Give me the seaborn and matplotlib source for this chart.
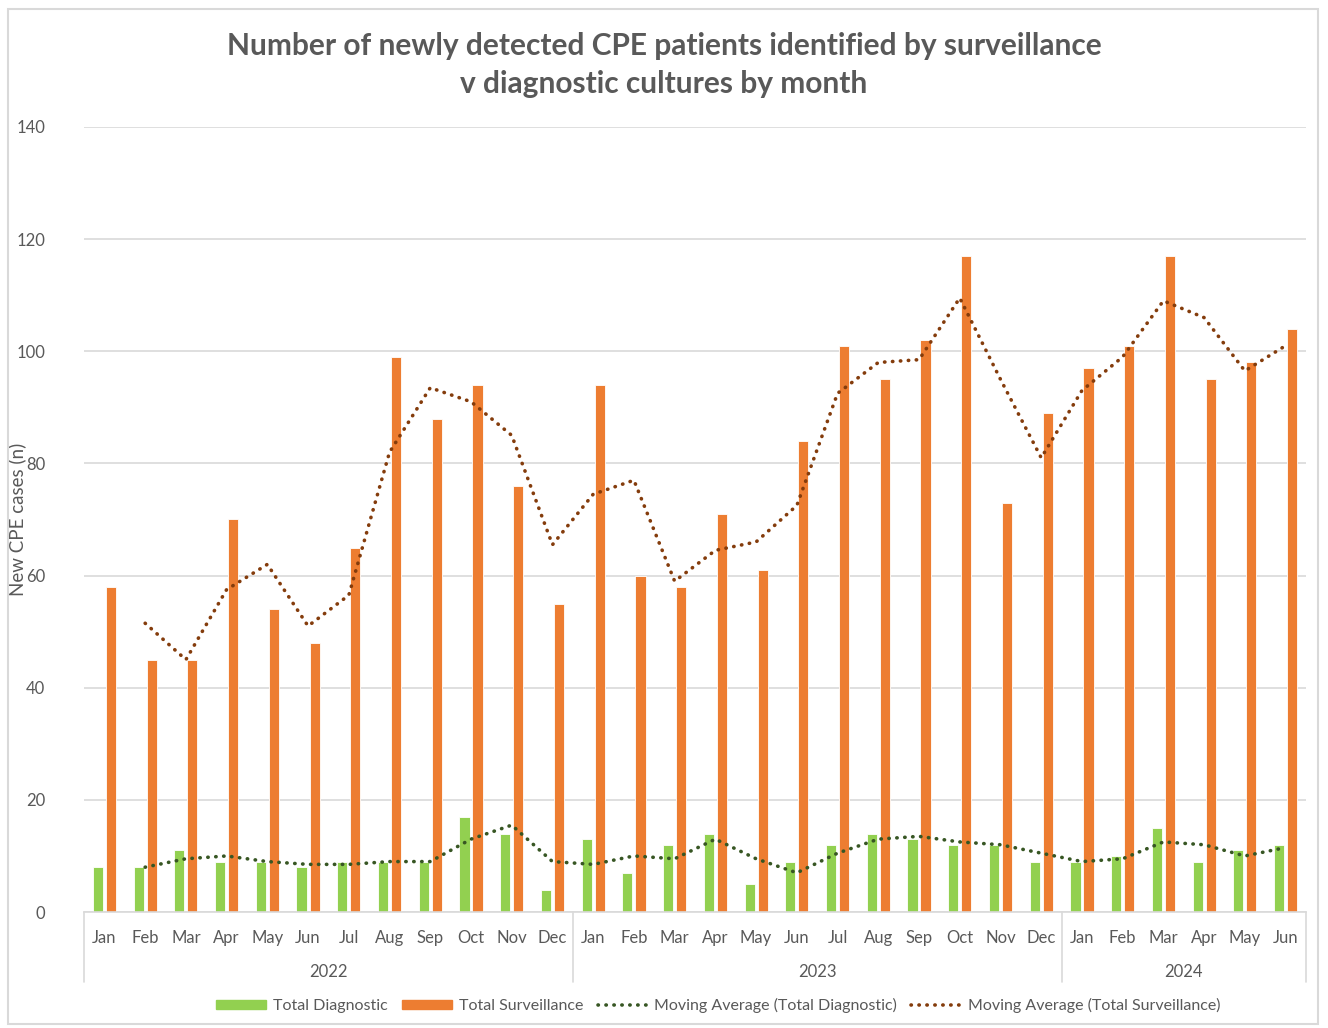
import numpy as np
import pandas as pd
import matplotlib
matplotlib.use("Agg")
import matplotlib.pyplot as plt
import matplotlib.patches as mpatches
from matplotlib.lines import Line2D
import seaborn as sns

# ─────────────────────────────────────────────
# Data
# ─────────────────────────────────────────────
months = ["Jan", "Feb", "Mar", "Apr", "May", "Jun", "Jul", "Aug", "Sep", "Oct", "Nov", "Dec",
          "Jan", "Feb", "Mar", "Apr", "May", "Jun", "Jul", "Aug", "Sep", "Oct", "Nov", "Dec",
          "Jan", "Feb", "Mar", "Apr", "May", "Jun"]
years = ["2022", "2023", "2024"]
year_lengths = [12, 12, 6]

diagnostic = [8, 8, 11, 9, 9, 8, 9, 9, 9, 17, 14, 4,
              13, 7, 12, 14, 5, 9, 12, 14, 13, 12, 12, 9,
              9, 10, 15, 9, 11, 12]
surveillance = [58, 45, 45, 70, 54, 48, 65, 99, 88, 94, 76, 55,
                94, 60, 58, 71, 61, 84, 101, 95, 102, 117, 73, 89,
                97, 101, 117, 95, 98, 104]

GREEN = "#92D050"
ORANGE = "#ED7D31"
MA_GREEN = "#375623"
MA_BROWN = "#843C0C"
TEXT = "#595959"
GRID = "#D9D9D9"
DOTS = (0, (0.1, 2.1))

sns.set_theme(style="white")
plt.rcParams["font.family"] = ["Lato", "DejaVu Sans"]

pos = np.arange(len(months))
df = pd.DataFrame({"pos": pos, "Total Diagnostic": diagnostic, "Total Surveillance": surveillance})
long = df.melt(id_vars="pos", var_name="series", value_name="n")

# 2-period moving averages (Excel trendline)
df["ma_diag"] = df["Total Diagnostic"].rolling(2).mean()
df["ma_surv"] = df["Total Surveillance"].rolling(2).mean()

fig = plt.figure(figsize=(13.28, 10.28), dpi=100)
ax = fig.add_axes([0.0633, 0.1128, 0.9201, 0.7637])

sns.barplot(data=long, x="pos", y="n", hue="series", order=list(pos),
            palette=[GREEN, ORANGE], saturation=1, width=0.64, gap=0.22,
            edgecolor="white", linewidth=0.6, legend=False, ax=ax)

ma = df.dropna()
sns.lineplot(x=ma["pos"], y=ma["ma_diag"], color=MA_GREEN, linewidth=2.6,
             linestyle=DOTS, dash_capstyle="round", ax=ax)
sns.lineplot(x=ma["pos"], y=ma["ma_surv"], color=MA_BROWN, linewidth=2.6,
             linestyle=DOTS, dash_capstyle="round", ax=ax)

ax.set_xlim(-0.5, len(months) - 0.5)
ax.set_ylim(0, 140)
ax.set_yticks(range(0, 141, 20))
ax.yaxis.grid(True, color=GRID, linewidth=1.2)
ax.set_axisbelow(True)
for s in ["top", "right", "left"]:
    ax.spines[s].set_visible(False)
ax.spines["bottom"].set_color(GRID)
ax.spines["bottom"].set_linewidth(1.2)

ax.set_xticks(pos)
ax.set_xticklabels(months)
ax.tick_params(axis="x", length=0, pad=13, labelsize=12, labelcolor=TEXT)
ax.tick_params(axis="y", length=0, pad=28, labelsize=12, labelcolor=TEXT)
ax.set_xlabel("")
ax.set_ylabel("New CPE cases (n)", fontsize=13.5, color=TEXT, labelpad=4)
ax.yaxis.set_label_coords(-0.047, 0.5)

# year row + separators
trans = ax.get_xaxis_transform()
start = 0
bounds = [-0.5]
for yr, n in zip(years, year_lengths):
    ax.text(start + (n - 1) / 2, -0.076, yr, transform=trans, ha="center", va="center",
            fontsize=12, color=TEXT)
    start += n
    bounds.append(start - 0.5)
for b in bounds:
    ax.plot([b, b], [0, -0.089], transform=trans, color=GRID, linewidth=1.2, clip_on=False)

fig.suptitle("Number of newly detected CPE patients identified by surveillance\n"
             "v diagnostic cultures by month",
             x=0.5, y=0.969, fontsize=21.5, fontweight="bold", color=TEXT, linespacing=1.45)

handles = [
    mpatches.Patch(color=GREEN, label="Total Diagnostic"),
    mpatches.Patch(color=ORANGE, label="Total Surveillance"),
    Line2D([], [], color=MA_GREEN, linewidth=2.6, linestyle=DOTS,
           dash_capstyle="round", label="Moving Average (Total Diagnostic)"),
    Line2D([], [], color=MA_BROWN, linewidth=2.6, linestyle=DOTS,
           dash_capstyle="round", label="Moving Average (Total Surveillance)"),
]
leg = fig.legend(handles=handles, loc="center", bbox_to_anchor=(0.541, 0.022), ncol=4,
                 frameon=False, fontsize=11.5, handlelength=3.1, handleheight=0.5,
                 columnspacing=0.9, handletextpad=0.45)
for t in leg.get_texts():
    t.set_color(TEXT)

# outer chart border
fig.patches.append(mpatches.Rectangle((8 / 1328, 1 - 1024 / 1028), 1310 / 1328, 1015 / 1028,
                                      transform=fig.transFigure, fill=False,
                                      edgecolor=GRID, linewidth=1.5))

fig.savefig("out.png", dpi=100)
